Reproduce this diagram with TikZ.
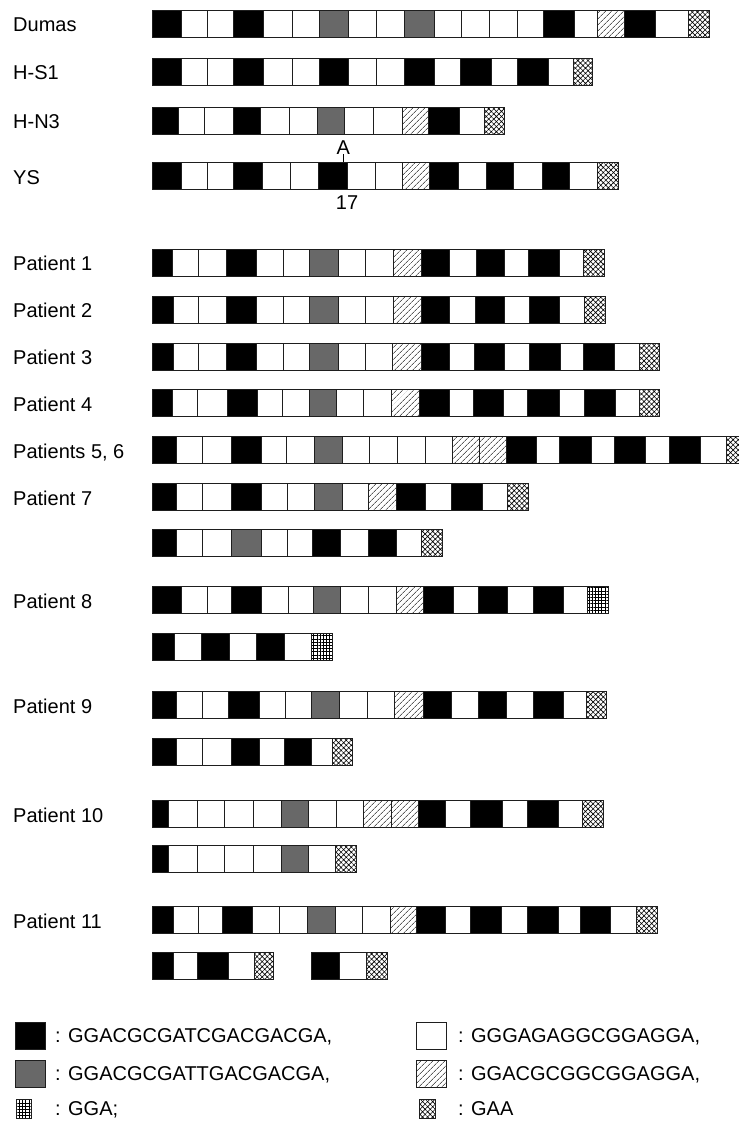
\documentclass[tikz,border=0pt]{standalone}
\usepackage{fontspec}
\setmainfont{Liberation Sans}
\usetikzlibrary{patterns.meta}
\definecolor{midgray}{RGB}{104,104,104}
\definecolor{edgec}{RGB}{30,30,30}
\newcommand\seqrow[3]{%
  \xdef\seqprev{#2}%
  \foreach \t/\e in {#3}{%
    \expandafter\path\expandafter[\t] (\seqprev,#1) rectangle (\e,#1+27);
    \xdef\seqprev{\e}%
  }%
}
\tikzset{
  bx/.style={draw=edgec, line width=0.9pt},
  bk/.style={bx, fill=black},
  wh/.style={bx, fill=white},
  gy/.style={bx, fill=midgray},
  ht/.style={bx, preaction={fill=white}, pattern={Lines[angle=45,distance=4pt,line width=0.6pt]}},
  cx/.style={bx, preaction={fill=white}, pattern={Hatch[angle=45,distance=3.6pt,line width=0.6pt]}},
  gd/.style={bx, preaction={fill=white}, pattern={Hatch[angle=0,distance=3.2pt,line width=0.55pt]}},
  lab/.style={anchor=base west, inner sep=0pt, font=\fontsize{20}{23}\selectfont},
  txt/.style={inner sep=0pt, font=\fontsize{20}{23}\selectfont},
}
\begin{document}
\begin{tikzpicture}[x=1pt,y=-1pt]
\clip (0,0) rectangle (739,1122);
\fill[white] (0,0) rectangle (739,1122);
% labels
\node[lab] (l1) at (13,31.5) {Dumas};
\node[lab] (l2) at (13,79.5) {H-S1};
\node[lab] (l3) at (13,128.5) {H-N3};
\node[lab] (l4) at (13,184.5) {YS};
\node[lab] (l5) at (13,270.5) {Patient 1};
\node[lab] (l6) at (13,317.5) {Patient 2};
\node[lab] (l7) at (13,364.5) {Patient 3};
\node[lab] (l8) at (13,411) {Patient 4};
\node[lab] (l9) at (13,458) {Patients 5, 6};
\node[lab] (l10) at (13,505) {Patient 7};
\node[lab] (l11) at (13,608) {Patient 8};
\node[lab] (l12) at (13,713) {Patient 9};
\node[lab] (l13) at (13,822) {Patient 10};
\node[lab] (l14) at (13,928) {Patient 11};
% rows
\seqrow{10}{152}{bk/181,wh/207,wh/233,bk/263,wh/292,wh/319,gy/348,wh/376,wh/404,gy/434,wh/461,wh/489,wh/517,wh/543,bk/574,wh/597,ht/624,bk/655,wh/688,cx/709}
\seqrow{58}{152}{bk/181,wh/207,wh/233,bk/263,wh/292,wh/319,bk/348,wh/376,wh/404,bk/434,wh/460,bk/491,wh/517,bk/548,wh/573,cx/592}
\seqrow{107}{152}{bk/178,wh/204,wh/233,bk/260,wh/289,wh/317,gy/344,wh/373,wh/402,ht/428,bk/459,wh/484,cx/504}
\seqrow{162}{152}{bk/181,wh/207,wh/233,bk/262,wh/290,wh/318,bk/347,wh/375,wh/402,ht/429,bk/458,wh/486,bk/513,wh/542,bk/569,wh/597,cx/618}
\seqrow{249}{152}{bk/172,wh/198,wh/226,bk/256,wh/283,wh/309,gy/338,wh/365,wh/393,ht/421,bk/449,wh/476,bk/504,wh/528,bk/559,wh/583,cx/604}
\seqrow{296}{152}{bk/173,wh/198,wh/226,bk/256,wh/283,wh/309,gy/338,wh/365,wh/393,ht/421,bk/449,wh/475,bk/504,wh/529,bk/559,wh/584,cx/605}
\seqrow{343}{152}{bk/173,wh/198,wh/226,bk/256,wh/283,wh/309,gy/338,wh/365,wh/392,ht/421,bk/449,wh/474,bk/504,wh/529,bk/560,wh/583,bk/614,wh/639,cx/659}
\seqrow{389}{152}{bk/172,wh/197,wh/227,bk/257,wh/282,wh/309,gy/336,wh/363,wh/391,ht/419,bk/449,wh/473,bk/503,wh/527,bk/559,wh/584,bk/615,wh/639,cx/659}
\seqrow{436}{152}{bk/176,wh/202,wh/231,bk/261,wh/286,wh/314,gy/342,wh/369,wh/397,wh/425,wh/452,ht/479,ht/506,bk/536,wh/559,bk/591,wh/614,bk/645,wh/669,bk/700,wh/726,cx/745}
\seqrow{483}{152}{bk/176,wh/202,wh/231,bk/261,wh/287,wh/314,gy/342,wh/368,ht/396,bk/425,wh/451,bk/482,wh/507,cx/528}
\seqrow{529}{152}{bk/176,wh/202,wh/231,gy/261,wh/287,wh/312,bk/340,wh/368,bk/396,wh/421,cx/442}
\seqrow{586}{152}{bk/181,wh/207,wh/231,bk/261,wh/288,wh/313,gy/340,wh/368,wh/396,ht/423,bk/453,wh/478,bk/507,wh/533,bk/563,wh/587,gd/608}
\seqrow{633}{152}{bk/174,wh/201,bk/229,wh/256,bk/284,wh/311,gd/332}
\seqrow{691}{152}{bk/176,wh/202,wh/228,bk/259,wh/285,wh/311,gy/339,wh/367,wh/394,ht/423,bk/451,wh/478,bk/506,wh/533,bk/563,wh/586,cx/606}
\seqrow{738}{152}{bk/176,wh/202,wh/231,bk/259,wh/284,bk/311,wh/332,cx/352}
\seqrow{800}{152}{bk/168,wh/197,wh/224,wh/253,wh/281,gy/308,wh/336,wh/363,ht/391,ht/418,bk/445,wh/470,bk/502,wh/527,bk/558,wh/582,cx/603}
\seqrow{845}{152}{bk/168,wh/197,wh/224,wh/253,wh/281,gy/308,wh/335,cx/356}
\seqrow{906}{152}{bk/173,wh/198,wh/222,bk/252,wh/279,wh/307,gy/335,wh/362,wh/390,ht/416,bk/445,wh/470,bk/501,wh/527,bk/558,wh/580,bk/610,wh/636,cx/657}
\seqrow{952}{152}{bk/173,wh/197,bk/228,wh/254,cx/273}
\seqrow{952}{311}{bk/339,wh/366,cx/387}
% mutation mark
\node[txt, anchor=base] (mutA) at (343.3,154) {A};
\coordinate (mutpt) at (343.3,162);
\draw[line width=0.9pt] (mutA.south) -- (mutpt);
\node[txt, anchor=base] (pos17) at (347,209) {17};
% legend
\path[bk] (15,1022) rectangle (45,1049);
\node[lab] (g1) at (55,1042.5) {: GGACGCGATCGACGACGA,};
\path[wh] (416,1022) rectangle (446,1049);
\node[lab] (g2) at (458,1042.5) {: GGGAGAGGCGGAGGA,};
\path[gy] (15,1060) rectangle (45,1087);
\node[lab] (g3) at (55,1080.5) {: GGACGCGATTGACGACGA,};
\path[ht] (416,1060) rectangle (446,1087);
\node[lab] (g4) at (458,1080.5) {: GGACGCGGCGGAGGA,};
\path[gd] (16,1099) rectangle (31,1118);
\node[lab] (g5) at (55,1115) {: GGA;};
\path[cx] (419,1099) rectangle (435,1118);
\node[lab] (g6) at (458,1115) {: GAA};
\end{tikzpicture}
\end{document}
